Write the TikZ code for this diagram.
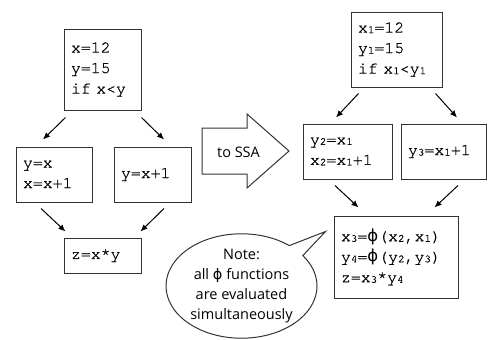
\documentclass[tikz,border=0pt]{standalone}
\usepackage{fontspec}
\setmainfont{Open Sans}
\newfontfamily\codefont[FakeBold=0.7]{TeX Gyre Cursor}
\newfontfamily\phifont{DejaVu Sans}
\usetikzlibrary{arrows.meta, positioning, shapes.callouts}
\newcommand{\sub}[1]{\raisebox{-0.5pt}{\fontsize{11}{11}\selectfont #1}}
\newcommand{\vphi}{{\phifont ϕ}}

\begin{document}
\begin{tikzpicture}[x=1pt, y=-1pt,
  block/.style={draw=black!80, line width=1pt, align=left, inner xsep=7pt, inner ysep=0pt,
    font={\codefont\fontsize{16.5}{20.5}\selectfont}},
  flow/.style={line width=1pt, arrows={-Latex[length=7pt,width=6pt]}},
  notetext/.style={font={\fontsize{14.5}{20}\selectfont}}]
  \useasboundingbox (0,0) rectangle (490,340);
  \node[block, text width=63pt, minimum height=81pt] (init) at (102.5,69.5) {x=12\\y=15\\if x<y};
  \node[block, text width=62pt, minimum height=55pt] (then) at (54,174.5) {y=x\\x=x+1};
  \node[block, text width=63pt, minimum height=55pt] (else) at (152.5,174.5) {y=x+1};
  \node[block, text width=63pt, minimum height=35pt] (join) at (102.5,255.5) {z=x*y};
  \draw[flow] ([shift={(2,7)}]init.south west) -- ([shift={(-11,-7)}]then.north);
  \draw[flow] ([shift={(0,7)}]init.south east) -- ([shift={(11.5,-7)}]else.north);
  \draw[flow] ([shift={(-13,6)}]then.south) -- ([shift={(2,-6)}]join.north west);
  \draw[flow] ([shift={(11.5,6)}]else.south) -- ([shift={(-1,-6)}]join.north east);
  \node[notetext] (tossa) at (238.5,152) {to SSA};
  \draw[draw=black!80, line width=1pt, line join=miter] (202,128) -- (247,128) -- (247,114) -- (289,151)
    -- (247,188) -- (247,174) -- (202,174) -- cycle;
  \node[block, text width=77pt, minimum height=75pt] (ssainit) at (396.5,49.5) {x\sub{1}=12\\y\sub{1}=15\\if x\sub{1}<y\sub{1}};
  \node[block, text width=75pt, minimum height=55pt] (ssathen) at (347.5,151.5) {y\sub{2}=x\sub{1}\\x\sub{2}=x\sub{1}+1};
  \node[block, text width=71pt, minimum height=55pt] (ssaelse) at (443.5,151.5) {y\sub{3}=x\sub{1}+1};
  \node[block, text width=110pt, minimum height=82pt] (ssajoin) at (396,257) {x\sub{3}=\vphi(x\sub{2},x\sub{1})\\y\sub{4}=\vphi(y\sub{2},y\sub{3})\\z=x\sub{3}*y\sub{4}};
  \draw[flow] ([shift={(8,6)}]ssainit.south west) -- ([shift={(-11.5,-6)}]ssathen.north);
  \draw[flow] ([shift={(-7,6)}]ssainit.south east) -- ([shift={(13.5,-6)}]ssaelse.north);
  \draw[flow] ([shift={(-12.5,6)}]ssathen.south) -- ([shift={(25,-8)}]ssajoin.north west);
  \draw[flow] ([shift={(14.5,6)}]ssaelse.south) -- ([shift={(-24,-8)}]ssajoin.north east);
  \coordinate (tip) at ([shift={(-8,16)}]ssajoin.north west);
  \node[ellipse callout, draw=black!80, line width=1pt, notetext, align=center, inner sep=0pt,
    minimum width=151pt, minimum height=100pt, callout absolute pointer=(tip)] (note) at (241.5,286)
    {Note:\\all \vphi{} functions\\are evaluated\\simultaneously};
\end{tikzpicture}
\end{document}
